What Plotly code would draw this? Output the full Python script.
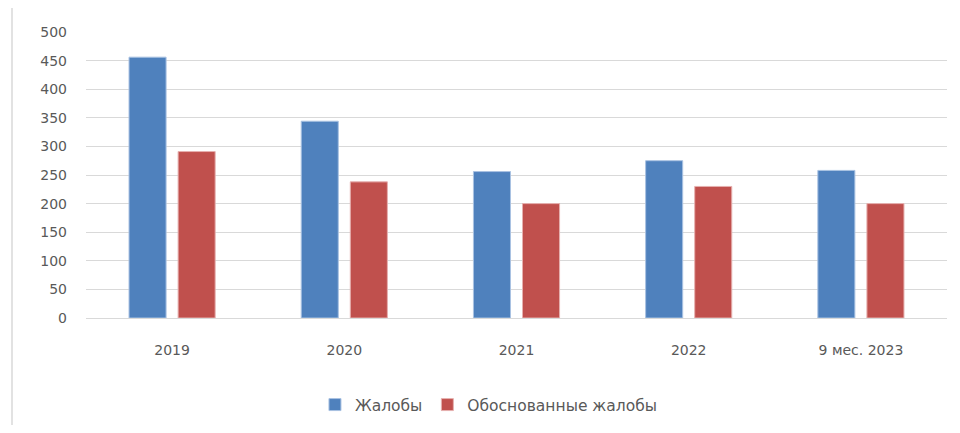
import plotly.graph_objects as go

categories = ["2019", "2020", "2021", "2022", "9 мес. 2023"]
complaints = [456, 344, 256, 275, 258]
justified = [291, 238, 200, 230, 200]
series_names = ["Жалобы", "Обоснованные жалобы"]
y_ticks = [0, 50, 100, 150, 200, 250, 300, 350, 400, 450, 500]

# page body has 8px default margin, so figure is sized to fit inside the window
W, H = 944, 417
ML, MR, MT, MB = 78, 5, 24, 107

fig = go.Figure()
fig.add_bar(x=categories, y=complaints, name=series_names[0],
            marker=dict(color="#4F81BD", line=dict(color="#A9C2E2", width=1)))
fig.add_bar(x=categories, y=justified, name=series_names[1],
            marker=dict(color="#C0504D", line=dict(color="#E6B0AF", width=1)))

font_family = "DejaVu Sans"
fig.update_layout(
    width=W, height=H,
    margin=dict(l=ML, r=MR, t=MT, b=MB),
    paper_bgcolor="white", plot_bgcolor="white",
    barmode="group", bargap=0.43, bargroupgap=0.245,
    font=dict(family=font_family, size=14, color="#595959"),
    showlegend=True,
    legend=dict(orientation="h", xref="container", yref="container",
                x=0.5095, xanchor="center", y=1 - 397 / H, yanchor="middle",
                font=dict(family=font_family, size=15.5, color="#595959"),
                itemwidth=30, traceorder="normal"),
    xaxis=dict(showgrid=False, showline=False, ticks="", ticklabelstandoff=22,
               tickfont=dict(family=font_family, size=14, color="#595959")),
    yaxis=dict(range=[0, 500], tickvals=y_ticks, showgrid=True, gridcolor="#D9D9D9",
               gridwidth=1, zeroline=True, zerolinecolor="#D9D9D9", zerolinewidth=1,
               showline=False, ticks="", ticklabelstandoff=18,
               tickfont=dict(family=font_family, size=14, color="#595959")),
)

plot_w = W - ML - MR
plot_h = H - MT - MB
border_x = (4 - ML) / plot_w
fig.add_shape(type="line", xref="paper", yref="paper",
              x0=border_x, x1=border_x, y0=-MB / plot_h - 0.05, y1=1 + MT / plot_h + 0.05,
              line=dict(color="#D9D9D9", width=1.5))

fig.write_html("out.html")
